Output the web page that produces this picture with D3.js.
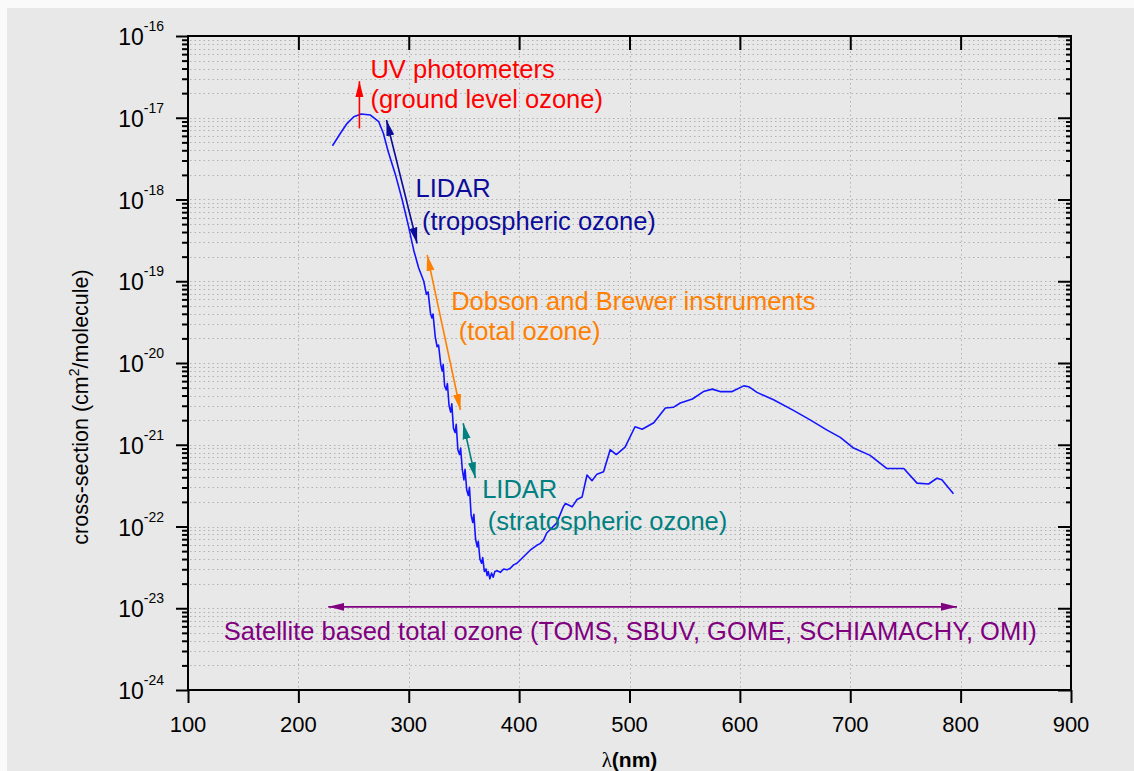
<!DOCTYPE html>
<meta charset="utf-8">
<script src="https://d3js.org/d3.v7.min.js"></script>
<style>
  body { margin: 0; background: #fafafa; }
  text { font-family: "Liberation Sans", Arial, sans-serif; }
</style>
<div id="chart"></div>
<script>

// O3 absorption cross-section
var wavelength = [230.9, 238.1, 244.2, 250.2, 256.9, 265.3, 272.8, 277, 281.5, 288,
  294, 299.5, 304.5, 309, 313.6, 316, 317.5, 319.7, 321, 322, 324,
  325.7, 327, 329, 330.3, 331.2, 332.5, 334, 335, 336.5, 338,
  339, 340.5, 342, 343, 344.5, 346, 347, 348.5, 350, 351,
  352.5, 354, 355, 356.5, 358, 359, 360.5, 362, 363, 364.5,
  366, 367, 368.5, 370, 371, 372, 373.5, 375, 376.5, 378,
  380, 383, 386, 389, 392, 395, 398, 401, 404, 410,
  416, 419, 422, 425, 428, 434, 440, 442, 448, 452.5,
  457, 461.5, 466, 470.5, 476.5, 482.5, 488, 496, 505, 511.5,
  522, 532.5, 540, 546, 557, 567, 575, 582, 593, 603.5,
  608, 615.5, 630.5, 648.5, 664, 679, 691, 703, 718, 733,
  748.5, 760.5, 771, 778.5, 783, 793.5]
var sigma = [4.55e-18, 6.46e-18, 8.55e-18, 1.03e-17, 1.11e-17, 1.08e-17, 8.95e-18, 6.46e-18, 3.8e-18, 2.0e-18,
  1.0e-18, 4.9e-19, 2.4e-19, 1.45e-19, 1.0e-19, 6.92e-20, 7.41e-20, 4.07e-20, 3.55e-20, 3.98e-20, 2.09e-20,
  1.58e-20, 1.66e-20, 9.55e-21, 7.94e-21, 9.55e-21, 5.25e-21, 4.68e-21, 5.62e-21, 3.02e-21, 2.51e-21,
  3.16e-21, 1.58e-21, 1.41e-21, 1.78e-21, 8.71e-22, 7.59e-22, 9.12e-22, 5.01e-22, 3.72e-22, 5.01e-22,
  2.82e-22, 2.40e-22, 3.02e-22, 1.38e-22, 1.12e-22, 1.41e-22, 7.08e-23, 5.62e-23, 6.61e-23, 3.98e-23,
  3.55e-23, 4.17e-23, 2.82e-23, 3.02e-23, 2.51e-23, 2.82e-23, 2.29e-23, 2.69e-23, 2.40e-23, 2.82e-23,
  2.88e-23, 2.75e-23, 3.02e-23, 2.95e-23, 3.09e-23, 3.39e-23, 3.55e-23, 3.89e-23, 4.27e-23, 5.13e-23,
  5.89e-23, 6.17e-23, 6.76e-23, 8.32e-23, 9.12e-23, 1.10e-22, 1.74e-22, 1.91e-22, 1.74e-22, 2.14e-22,
  2.29e-22, 4.27e-22, 3.63e-22, 4.37e-22, 4.68e-22, 8.71e-22, 7.59e-22, 9.33e-22, 1.66e-21, 1.55e-21,
  1.86e-21, 2.82e-21, 2.88e-21, 3.24e-21, 3.63e-21, 4.47e-21, 4.79e-21, 4.47e-21, 4.47e-21, 5.25e-21,
  5.13e-21, 4.37e-21, 3.55e-21, 2.63e-21, 2.00e-21, 1.51e-21, 1.23e-21, 9.12e-22, 7.41e-22, 5.13e-22,
  5.13e-22, 3.39e-22, 3.31e-22, 3.89e-22, 3.72e-22, 2.51e-22]

var xTicks = [100, 200, 300, 400, 500, 600, 700, 800, 900]
var yExponents = [-16, -17, -18, -19, -20, -21, -22, -23, -24]

// instrument ranges: arrow ends in (nm, cross-section)
var arrowFrom = [[255.3, 7.4e-18], [279.8, 9.4e-18], [316.7, 2.1e-19], [349.3, 1.83e-21], [227.1, 1.04e-23]]
var arrowTo = [[255.3, 2.8e-17], [307.6, 2.9e-19], [346.8, 2.66e-21], [360.4, 3.9e-22], [796.7, 1.04e-23]]
var arrowHeads = [1, 2, 2, 2, 2]

var labelText = ["UV photometers", "(ground level ozone)", "LIDAR", "(tropospheric ozone)",
  "Dobson and Brewer instruments", "(total ozone)", "LIDAR", "(stratospheric ozone)",
  "Satellite based total ozone (TOMS, SBUV, GOME, SCHIAMACHY, OMI)"]
var labelGroup = [0, 0, 1, 1, 2, 2, 3, 3, 4]
var labelNm = [265.3, 265.3, 306.1, 312.0, 338.4, 345.3, 366.5, 371.6, 132.4]
var labelSigma = [3.06e-17, 1.31e-17, 1.07e-18, 4.24e-19, 4.45e-20, 1.91e-20, 2.21e-22, 9.06e-23, 4.09e-24]

var groupColor = ["#ff0000", "#0c0c9a", "#ff8000", "#008080", "#800080"]

var width = 1134, height = 771
var plotLeft = 188, plotRight = 1071, plotTop = 36, plotBottom = 690

var svg = d3.select("#chart").append("svg")
    .attr("width", width)
    .attr("height", height)

svg.append("rect")
    .attr("x", 7).attr("y", 8)
    .attr("width", width - 7).attr("height", height - 8)
    .attr("fill", "#e8e8e8")

var x = d3.scaleLinear().domain([100, 900]).range([plotLeft, plotRight])
var y = d3.scaleLog().domain([1e-24, 1e-16]).range([plotBottom, plotTop])

var yMajor = yExponents.map(function(e) { return Math.pow(10, e) })
var yMinor = y.ticks().filter(function(v) {
  var m = v / Math.pow(10, Math.floor(Math.log10(v) + 1e-9))
  return Math.abs(m - 1) > 1e-6
})

// dotted grid
var grid = svg.append("g")
    .attr("stroke", "#b2b2b2")
    .attr("stroke-width", 1)
    .attr("stroke-dasharray", "1.5,3")
grid.selectAll("line.h")
  .data(yMajor.concat(yMinor))
  .enter().append("line")
    .attr("x1", plotLeft + 2).attr("x2", plotRight - 2)
    .attr("y1", function(d) { return Math.round(y(d)) + 0.5 })
    .attr("y2", function(d) { return Math.round(y(d)) + 0.5 })
grid.selectAll("line.v")
  .data(xTicks.slice(1, -1))
  .enter().append("line")
    .attr("x1", function(d) { return Math.round(x(d)) + 0.5 })
    .attr("x2", function(d) { return Math.round(x(d)) + 0.5 })
    .attr("y1", plotTop + 2).attr("y2", plotBottom - 2)

// axes: left/bottom ticks outward, top/right ticks inward
function styleAxis(g) {
  g.select(".domain").remove()
  g.selectAll(".tick line").attr("stroke", "#000").attr("stroke-width", 2)
  g.selectAll(".tick text").remove()
}
svg.append("g").attr("transform", "translate(" + plotLeft + ",0)")
    .call(d3.axisLeft(y).tickValues(yMajor).tickSize(12)).call(styleAxis)
svg.append("g").attr("transform", "translate(" + plotLeft + ",0)")
    .call(d3.axisLeft(y).tickValues(yMinor).tickSize(6)).call(styleAxis)
svg.append("g").attr("transform", "translate(" + plotRight + ",0)")
    .call(d3.axisLeft(y).tickValues(yMajor).tickSize(13)).call(styleAxis)
svg.append("g").attr("transform", "translate(" + plotRight + ",0)")
    .call(d3.axisLeft(y).tickValues(yMinor).tickSize(5)).call(styleAxis)
svg.append("g").attr("transform", "translate(0," + plotBottom + ")")
    .call(d3.axisBottom(x).tickValues(xTicks).tickSize(13)).call(styleAxis)
svg.append("g").attr("transform", "translate(0," + plotTop + ")")
    .call(d3.axisBottom(x).tickValues(xTicks.slice(1, -1)).tickSize(14)).call(styleAxis)

// frame
svg.append("rect")
    .attr("x", plotLeft).attr("y", plotTop)
    .attr("width", plotRight - plotLeft).attr("height", plotBottom - plotTop)
    .attr("fill", "none").attr("stroke", "#000").attr("stroke-width", 2)

// tick labels
svg.append("g").selectAll("text")
  .data(xTicks)
  .enter().append("text")
    .attr("x", function(d) { return x(d) })
    .attr("y", plotBottom + 42)
    .attr("text-anchor", "middle")
    .style("font-size", "22px")
    .text(function(d) { return d })

var yl = svg.append("g").selectAll("text")
  .data(yExponents)
  .enter().append("text")
    .attr("x", plotLeft - 24)
    .attr("y", function(d) { return y(Math.pow(10, d)) + 9 })
    .attr("text-anchor", "end")
    .style("font-size", "23px")
yl.append("tspan").text("10")
yl.append("tspan").attr("dy", -14).style("font-size", "14px")
    .text(function(d) { return d })

// axis titles
var yt = svg.append("text")
    .attr("transform", "translate(88,407) rotate(-90)")
    .attr("text-anchor", "middle")
    .style("font-size", "21.5px")
yt.append("tspan").text("cross-section (cm")
yt.append("tspan").attr("dy", -9).style("font-size", "14px").text("2")
yt.append("tspan").attr("dy", 9).text("/molecule)")

var xt = svg.append("text")
    .attr("x", (plotLeft + plotRight) / 2)
    .attr("y", 767)
    .attr("text-anchor", "middle")
    .style("font-size", "21px")
    .style("font-weight", "bold")
xt.append("tspan").style("font-family", "'Liberation Serif', serif").style("font-weight", "normal").text("λ")
xt.append("tspan").text("(nm)")

// the cross-section curve
var line = d3.line()
    .x(function(d) { return x(d[0]) })
    .y(function(d) { return y(d[1]) })

svg.append("path")
    .datum(d3.zip(wavelength, sigma))
    .attr("fill", "none")
    .attr("stroke", "#1414ff")
    .attr("stroke-width", 1.6)
    .attr("stroke-linejoin", "round")
    .attr("d", line)

// arrow heads
var defs = svg.append("defs")
groupColor.forEach(function(c, i) {
  defs.append("marker")
      .attr("id", "head" + i)
      .attr("viewBox", "0 0 16 10")
      .attr("refX", 16).attr("refY", 5)
      .attr("markerWidth", 16).attr("markerHeight", 10)
      .attr("markerUnits", "userSpaceOnUse")
      .attr("orient", "auto-start-reverse")
    .append("path")
      .attr("d", "M0,1L16,5L0,9Z")
      .attr("fill", c)
})

svg.append("g").selectAll("line")
  .data(arrowFrom)
  .enter().append("line")
    .attr("x1", function(d) { return x(d[0]) })
    .attr("y1", function(d) { return y(d[1]) })
    .attr("x2", function(d, i) { return x(arrowTo[i][0]) })
    .attr("y2", function(d, i) { return y(arrowTo[i][1]) })
    .attr("stroke", function(d, i) { return groupColor[i] })
    .attr("stroke-width", 1.6)
    .attr("marker-end", function(d, i) { return "url(#head" + i + ")" })
    .attr("marker-start", function(d, i) { return arrowHeads[i] == 2 ? "url(#head" + i + ")" : null })

svg.append("g").selectAll("text")
  .data(labelText)
  .enter().append("text")
    .attr("x", function(d, i) { return x(labelNm[i]) })
    .attr("y", function(d, i) { return y(labelSigma[i]) })
    .attr("fill", function(d, i) { return groupColor[labelGroup[i]] })
    .style("font-size", "25.5px")
    .text(function(d) { return d })

</script>
